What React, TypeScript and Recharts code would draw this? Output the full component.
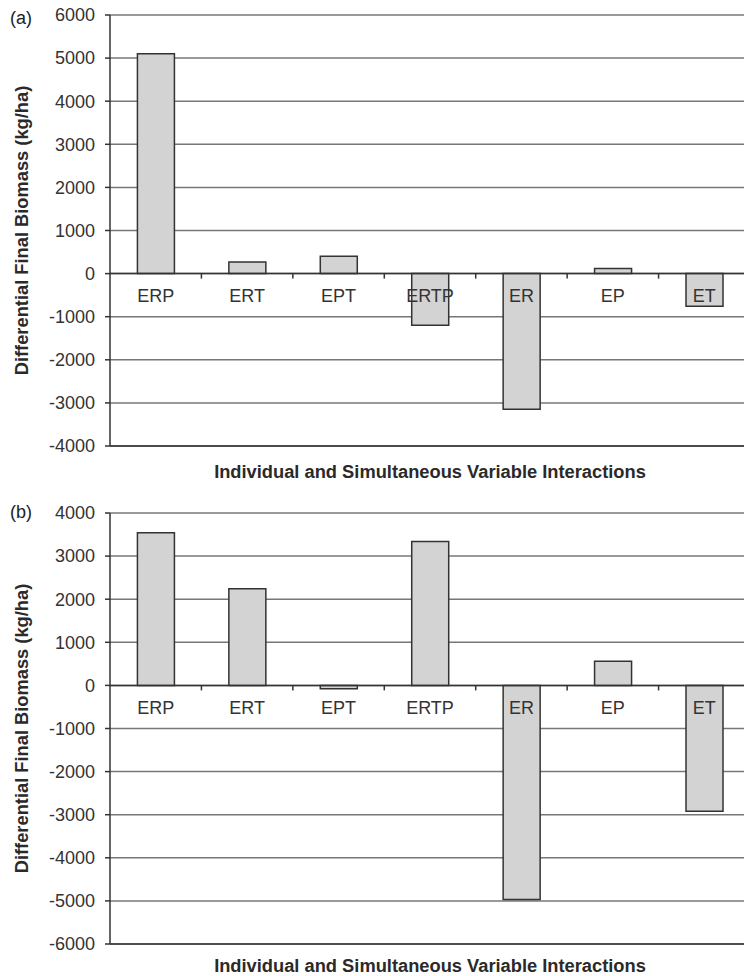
import { BarChart, Bar, XAxis, YAxis, CartesianGrid, ReferenceLine } from "recharts";

const categories = ["ERP", "ERT", "EPT", "ERTP", "ER", "EP", "ET"];
const biomassA = [5100, 270, 400, -1200, -3150, 120, -760];
const biomassB = [3540, 2240, -80, 3340, -4970, 560, -2920];
const ticksA = [-4000, -3000, -2000, -1000, 0, 1000, 2000, 3000, 4000, 5000, 6000];
const ticksB = [-6000, -5000, -4000, -3000, -2000, -1000, 0, 1000, 2000, 3000, 4000];

const FONT = "Liberation Sans";
const CHART_W = 750;
const Y_W = 110;
const PLOT_H = 431;
const BAND = (CHART_W - Y_W) / categories.length;

const rowsA = categories.map((name, i) => ({ name, value: biomassA[i] }));
const rowsB = categories.map((name, i) => ({ name, value: biomassB[i] }));

// category labels sit just under the zero line, not at the bottom of the plot
const makeTick = (min: number, max: number) => (props: any) => {
  const { x, y, payload, index } = props;
  const zeroY = y - (PLOT_H * (0 - min)) / (max - min);
  return (
    <g>
      {index < categories.length - 1 && (
        <line x1={x + BAND / 2} x2={x + BAND / 2} y1={zeroY} y2={zeroY + 5} stroke="#333" strokeWidth={1.5} />
      )}
      <text x={x} y={zeroY + 22} dy="0.36em" textAnchor="middle" fontSize={18} fill="#333" fontFamily={FONT}>
        {payload.value}
      </text>
    </g>
  );
};

const Panel = ({ rows, ticks, top, xH, labelOff }: any) => {
  const min = ticks[0];
  const max = ticks[ticks.length - 1];
  return (
    <BarChart
      width={CHART_W}
      height={top + PLOT_H + xH}
      data={rows}
      margin={{ top, right: 0, bottom: 0, left: 0 }}
      barCategoryGap="30%"
      style={{ fontFamily: FONT }}
    >
      <CartesianGrid vertical={false} stroke="#777" strokeWidth={1.5} />
      <YAxis
        width={Y_W}
        domain={[min, max]}
        ticks={ticks}
        interval={0}
        tickSize={5}
        tickMargin={10}
        stroke="#333"
        strokeWidth={1.5}
        tick={{ fontSize: 18, fill: "#333" }}
        label={{
          value: "Differential Final Biomass (kg/ha)",
          angle: -90,
          position: "insideLeft",
          offset: 22,
          style: { textAnchor: "middle", fontWeight: "bold", fontSize: 18.3, fill: "#2a2a2a" },
        }}
      />
      <ReferenceLine y={0} stroke="#333" strokeWidth={1.5} />
      <Bar dataKey="value" fill="#d3d3d3" stroke="#333" strokeWidth={1.5} isAnimationActive={false} />
      <XAxis
        dataKey="name"
        height={xH}
        tickLine={false}
        tickSize={0}
        tickMargin={0}
        interval={0}
        stroke="#333"
        strokeWidth={1.5}
        tick={makeTick(min, max)}
        label={{
          value: "Individual and Simultaneous Variable Interactions",
          position: "insideBottom",
          offset: labelOff,
          style: { fontWeight: "bold", fontSize: 18.3, fill: "#2a2a2a" },
        }}
      />
    </BarChart>
  );
};

export default function App() {
  return (
    <div style={{ position: "absolute", left: 0, top: 0, width: 744, height: 976, overflow: "hidden", background: "#fff" }}>
      <Panel rows={rowsA} ticks={ticksA} top={15} xH={42} labelOff={10} />
      <Panel rows={rowsB} ticks={ticksB} top={25} xH={32} labelOff={4} />
      <div style={{ position: "absolute", left: 10, top: 8, fontFamily: FONT, fontSize: 18, color: "#222" }}>(a)</div>
      <div style={{ position: "absolute", left: 10, top: 502, fontFamily: FONT, fontSize: 18, color: "#222" }}>(b)</div>
    </div>
  );
}
